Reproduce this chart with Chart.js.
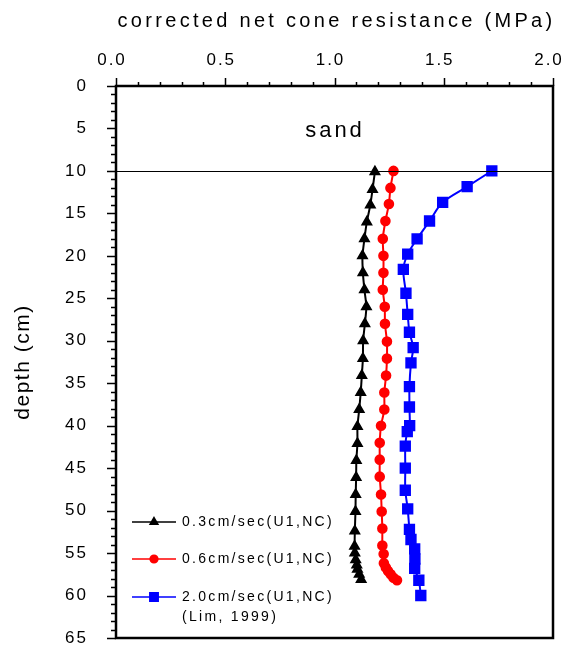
<!DOCTYPE html>
<html>
<head>
<meta charset="utf-8">
<script src="https://cdn.jsdelivr.net/npm/chart.js@4.4.1/dist/chart.umd.min.js"></script>
<style>
  body { margin: 0; background: #fff; }
  canvas { display: block; }
</style>
</head>
<body>
<canvas id="grafico" width="563" height="651"></canvas>
<script>
// depth (cm) / corrected net cone resistance (MPa)
const depth03 = [10.1, 12.2, 14.0, 16.0, 18.0, 20.0, 22.0, 24.0, 26.0, 28.0, 30.0, 32.1, 34.1, 36.1, 38.1, 40.1,
  42.1, 44.1, 46.1, 48.1, 50.1, 52.4, 54.2, 55.0, 55.8, 56.4, 56.9, 57.5, 58.1];
const qc03 = [1.185, 1.174, 1.164, 1.148, 1.137, 1.128, 1.130, 1.137, 1.146, 1.139, 1.131, 1.130, 1.125, 1.120, 1.113, 1.105,
  1.105, 1.100, 1.099, 1.097, 1.096, 1.093, 1.092, 1.093, 1.097, 1.102, 1.105, 1.113, 1.122];

const depth06 = [10.0, 12.0, 13.9, 15.9, 18.0, 20.0, 22.0, 24.0, 26.0, 28.0, 30.1, 32.1, 34.1, 36.1, 38.1, 40.0,
  42.0, 44.0, 46.0, 48.1, 50.1, 52.1, 54.1, 55.1, 56.2, 56.7, 57.1, 57.5, 57.9, 58.2];
const qc06 = [1.270, 1.256, 1.249, 1.233, 1.221, 1.224, 1.224, 1.221, 1.230, 1.231, 1.240, 1.240, 1.236, 1.228, 1.228, 1.213,
  1.207, 1.207, 1.207, 1.213, 1.216, 1.219, 1.219, 1.225, 1.226, 1.235, 1.245, 1.257, 1.270, 1.286];

const depth20 = [10.0, 11.85, 13.7, 15.9, 18.0, 19.8, 21.6, 24.4, 26.9, 29.0, 30.8, 32.6, 35.4, 37.8, 40.0, 40.7,
  42.4, 45.0, 47.6, 49.8, 52.2, 53.4, 54.5, 55.7, 56.8, 58.2, 60.0];
const qc20 = [1.720, 1.607, 1.495, 1.435, 1.378, 1.335, 1.315, 1.327, 1.335, 1.343, 1.360, 1.350, 1.343, 1.343, 1.344, 1.333,
  1.324, 1.324, 1.324, 1.335, 1.343, 1.350, 1.367, 1.368, 1.367, 1.386, 1.395];

const etiquetas = ['0.3cm/sec(U1,NC)', '0.6cm/sec(U1,NC)', ['2.0cm/sec(U1,NC)', '(Lim, 1999)']];
const xTicks = [0, 0.5, 1.0, 1.5, 2.0];
const yTicks = [0, 5, 10, 15, 20, 25, 30, 35, 40, 45, 50, 55, 60, 65];
const limiteArena = 10;   // sand layer boundary (cm)
const tituloX = 'corrected net cone resistance (MPa)';
const tituloY = 'depth (cm)';
const textoCapa = 'sand';

const FUENTE = '"Liberation Sans", Arial, sans-serif';

function puntos(depths, vals) {
  return depths.map((d, i) => ({ x: vals[i], y: d }));
}

const decoracion = {
  id: 'decoracion',
  beforeDraw(chart) {
    chart.ctx.letterSpacing = '2px';
  },
  afterDraw(chart) {
    const ctx = chart.ctx;
    const a = chart.chartArea;
    const sx = chart.scales.x, sy = chart.scales.y;
    ctx.save();
    ctx.letterSpacing = '0px';
    ctx.strokeStyle = '#000';

    // sand boundary line
    const yl = Math.round(sy.getPixelForValue(limiteArena)) + 0.5;
    ctx.lineWidth = 1;
    ctx.beginPath();
    ctx.moveTo(a.left, yl);
    ctx.lineTo(a.right, yl);
    ctx.stroke();

    // ticks (major + minor)
    ctx.lineWidth = 1.5;
    ctx.beginPath();
    for (let i = 0; i <= 20; i++) {
      const x = Math.round(sx.getPixelForValue(i / 10)) + 0.5;
      const len = i % 5 === 0 ? 8 : 4;
      ctx.moveTo(x, a.top);
      ctx.lineTo(x, a.top - len);
    }
    for (let d = 0; d <= 65; d++) {
      const y = Math.round(sy.getPixelForValue(d)) + 0.5;
      const len = d % 5 === 0 ? 9 : 5;
      ctx.moveTo(a.left, y);
      ctx.lineTo(a.left - len, y);
    }
    ctx.stroke();

    // frame
    ctx.lineWidth = 2.5;
    ctx.strokeRect(a.left, a.top, a.right - a.left, a.bottom - a.top);

    // titles
    ctx.fillStyle = '#000';
    ctx.font = '20px ' + FUENTE;
    ctx.letterSpacing = '3.3px';
    ctx.textAlign = 'center';
    ctx.textBaseline = 'middle';
    ctx.fillText(tituloX, (a.left + a.right) / 2 + 2, 21);

    ctx.font = '22px ' + FUENTE;
    ctx.letterSpacing = '3px';
    ctx.fillText(textoCapa, 335, 131);

    ctx.save();
    ctx.translate(23, (a.top + a.bottom) / 2);
    ctx.rotate(-Math.PI / 2);
    ctx.font = '21px ' + FUENTE;
    ctx.letterSpacing = '1.5px';
    ctx.fillText(tituloY, 0, 0);
    ctx.restore();

    // legend
    const filas = [522, 559, 597];
    ctx.font = '14px ' + FUENTE;
    ctx.letterSpacing = '2.3px';
    ctx.textAlign = 'left';
    chart.data.datasets.forEach((ds, i) => {
      const y = filas[i];
      ctx.strokeStyle = ds.borderColor;
      ctx.lineWidth = 1.5;
      ctx.beginPath();
      ctx.moveTo(132, y);
      ctx.lineTo(176, y);
      ctx.stroke();
      ctx.fillStyle = ds.backgroundColor;
      Chart.helpers.drawPoint(ctx, {
        pointStyle: ds.pointStyle, radius: ds.pointRadius * 0.9, rotation: 0, borderWidth: 1
      }, 154, y);
      ctx.fillStyle = '#000';
      const lab = [].concat(ds.label);
      lab.forEach((t, k) => ctx.fillText(t, 182, y + k * 20));
    });
    ctx.restore();
  }
};

const ctx = document.getElementById('grafico').getContext('2d');
new Chart(ctx, {
  type: 'scatter',
  data: {
    datasets: [
      {
        label: etiquetas[0],
        data: puntos(depth03, qc03),
        showLine: true,
        borderColor: '#000',
        backgroundColor: '#000',
        borderWidth: 2,
        pointStyle: 'triangle',
        pointRadius: 5,
        tension: 0.2
      },
      {
        label: etiquetas[1],
        data: puntos(depth06, qc06),
        showLine: true,
        borderColor: '#ff0000',
        backgroundColor: '#ff0000',
        borderWidth: 2,
        pointStyle: 'circle',
        pointRadius: 4.3,
        tension: 0.2
      },
      {
        label: etiquetas[2],
        data: puntos(depth20, qc20),
        showLine: true,
        borderColor: '#0000ff',
        backgroundColor: '#0000ff',
        borderWidth: 2,
        pointStyle: 'rect',
        pointRadius: 6.6,
        tension: 0.3
      }
    ]
  },
  options: {
    responsive: false,
    animation: false,
    layout: { padding: { left: 0, top: 0, right: 10, bottom: 13 } },
    plugins: { legend: { display: false }, tooltip: { enabled: false } },
    scales: {
      x: {
        type: 'linear',
        position: 'top',
        min: 0,
        max: 2,
        afterFit(s) { s.height = 86; s.paddingLeft = 0; s.paddingRight = 0; },
        afterBuildTicks(s) { s.ticks = xTicks.map(v => ({ value: v })); },
        grid: { display: false, drawTicks: false },
        border: { display: false },
        ticks: {
          color: '#000',
          font: { family: FUENTE, size: 17 },
          padding: 15,
          labelOffset: -4,
          autoSkip: false,
          maxRotation: 0,
          callback: v => Number(v).toFixed(1)
        }
      },
      y: {
        type: 'linear',
        reverse: true,
        min: 0,
        max: 65,
        afterFit(s) { s.width = 116; s.paddingTop = 0; s.paddingBottom = 0; },
        afterBuildTicks(s) { s.ticks = yTicks.map(v => ({ value: v })); },
        grid: { display: false, drawTicks: false },
        border: { display: false },
        ticks: {
          color: '#000',
          font: { family: FUENTE, size: 17 },
          padding: 28,
          autoSkip: false,
          callback: v => String(v)
        }
      }
    }
  },
  plugins: [decoracion]
});
</script>
</body>
</html>
